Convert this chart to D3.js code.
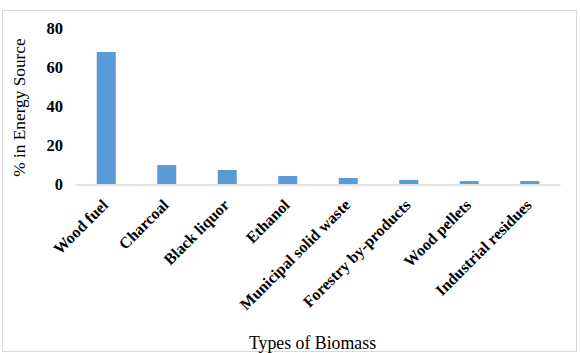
<!DOCTYPE html>
<html>
<head>
<meta charset="utf-8">
<script src="https://cdn.jsdelivr.net/npm/d3@7"></script>
<style>
  html, body { margin: 0; padding: 0; background: #fff; }
  svg { display: block; }
</style>
</head>
<body>
<svg id="chart" width="580" height="353"></svg>
<script>
const categories = ["Wood fuel", "Charcoal", "Black liquor", "Ethanol", "Municipal solid waste", "Forestry by-products", "Wood pellets", "Industrial residues"];
const values = [67.7, 9.7, 7.2, 4.1, 3.1, 2.1, 1.5, 1.5];
const yTicks = [0, 20, 40, 60, 80];
const yTitle = "% in Energy Source";
const xTitle = "Types of Biomass";

const svg = d3.select("#chart");
const serif = "'Liberation Serif', 'Times New Roman', serif";

svg.append("rect")
  .attr("x", 2.5).attr("y", 10.5)
  .attr("width", 574).attr("height", 341)
  .attr("fill", "#fff").attr("stroke", "#d9d9d9").attr("stroke-width", 1);

const x = d3.scaleBand().domain(categories).range([76, 560]).paddingInner(0.686).paddingOuter(0.343);
const y = d3.scaleLinear().domain([0, 80]).range([184, 28]);

svg.append("g").selectAll("rect").data(values).join("rect")
  .attr("x", (d, i) => x(categories[i]))
  .attr("y", d => y(d))
  .attr("width", x.bandwidth())
  .attr("height", d => y(0) - y(d))
  .attr("fill", "#5b9bd5");

// x axis line
const xAxis = d3.axisBottom(x).tickSize(0).tickFormat("");
const gx = svg.append("g").attr("transform", `translate(0,${y(0) + 0.5})`).call(xAxis);
gx.select(".domain").attr("stroke", "#d9d9d9").attr("stroke-width", 1.3);

// x labels
svg.append("g").selectAll("text").data(categories).join("text")
  .attr("transform", d => `translate(${x(d) + x.bandwidth() / 2 + 3},206) rotate(-45)`)
  .attr("text-anchor", "end")
  .attr("font-family", serif).attr("font-weight", "bold").attr("font-size", "16px")
  .attr("fill", "#000")
  .text(d => d);

// y axis labels
const yAxis = d3.axisLeft(y).tickValues(yTicks).tickSize(0).tickPadding(0);
const gy = svg.append("g").attr("transform", "translate(63,0)").call(yAxis);
gy.select(".domain").remove();
gy.selectAll("text")
  .attr("font-family", serif).attr("font-weight", "bold").attr("font-size", "16.5px")
  .attr("fill", "#000");

// titles
svg.append("text")
  .attr("transform", "translate(24.5,107.5) rotate(-90)")
  .attr("text-anchor", "middle")
  .attr("font-family", serif).attr("font-size", "17.3px").attr("fill", "#000")
  .text(yTitle);

svg.append("text")
  .attr("x", 312.5).attr("y", 348.5)
  .attr("text-anchor", "middle")
  .attr("font-family", serif).attr("font-size", "17.8px").attr("fill", "#000")
  .text(xTitle);
</script>
</body>
</html>
